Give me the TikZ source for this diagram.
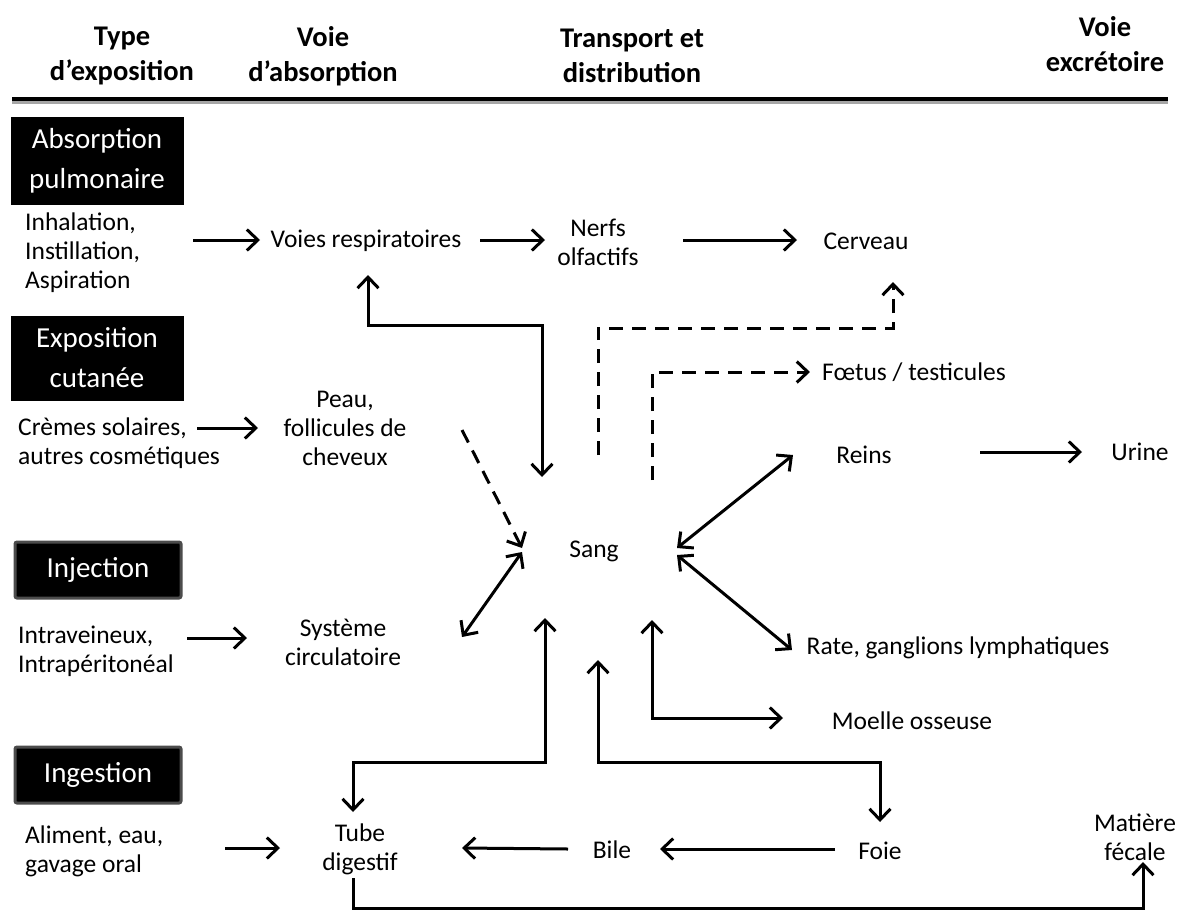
\documentclass[tikz,border=0pt]{standalone}
\usepackage{fontspec}
\setmainfont{Carlito}
\usetikzlibrary{arrows.meta,calc}
\begin{document}
\begin{tikzpicture}[x=1pt,y=-1pt,
 txt/.style={align=center,font=\fontsize{25.5}{29}\selectfont,inner sep=0pt},
 txtl/.style={align=left,font=\fontsize{25.5}{29}\selectfont,inner sep=0pt},
 hdr/.style={align=center,font=\fontsize{28.5}{35}\selectfont\bfseries,inner sep=0pt},
 blk/.style={fill=black,text=white,align=center,font=\fontsize{29}{40}\selectfont,minimum width=173pt,inner sep=0pt},
 blkf/.style={blk,draw=black!70,line width=3pt,rounded corners=2pt,minimum width=166pt,minimum height=56pt},
 tip/.tip={Straight Barb[length=11pt,width=21pt]},
 arr/.style={line width=3pt,-tip},
 darr/.style={line width=3pt,tip-tip},
 dsh/.style={arr,dash pattern=on 14pt off 9pt}
]
\useasboundingbox (0,0) rectangle (1177,910);

% headers
\node[hdr] (h1) at (122,56) {Type\\d’exposition};
\node[hdr] (h2) at (323,56) {Voie\\d’absorption};
\node[hdr] (h3) at (632,56) {Transport et\\distribution};
\node[hdr] (h4) at (1105,44) {Voie\\excrétoire};
\draw[line width=3pt,black!35] (12,102) -- (1168,102);
\draw[line width=4pt] (12,99) -- (1168,99);

% black boxes
\node[blk,minimum height=88pt] (b1) at (97,161) {Absorption\\pulmonaire};
\node[blk,minimum height=85pt] (b2) at (97,358) {Exposition\\cutanée};
\node[blkf] (b3) at (98,570) {Injection};
\node[blkf] (b4) at (98,775) {Ingestion};

% left texts
\node[txtl,anchor=west] (t1) at (25,253) {Inhalation,\\Instillation,\\Aspiration};
\node[txtl,anchor=west] (t2) at (18,443) {Crèmes solaires,\\autres cosmétiques};
\node[txtl,anchor=west] (t3) at (18,651) {Intraveineux,\\Intrapéritonéal};
\node[txtl,anchor=west] (t4) at (25,851) {Aliment, eau,\\gavage oral};

% column 2
\node[txt] (voies) at (366,241) {Voies respiratoires};
\node[txt] (peau) at (345,428) {Peau,\\follicules de\\cheveux};
\node[txt] (sys) at (343,642) {Système\\circulatoire};
\node[txt] (tube) at (360,849) {Tube\\digestif};

% column 3
\node[txt] (nerfs) at (598,242) {Nerfs\\olfactifs};
\node[txt] (sang) at (594,551) {Sang};
\node[txt] (bile) at (612,850) {Bile};

% right
\node[txt] (cerv) at (866,241) {Cerveau};
\node[txt] (foet) at (914,372) {Fœtus / testicules};
\node[txt] (reins) at (864,455) {Reins};
\node[txt] (urine) at (1140,452) {Urine};
\node[txt] (rate) at (958,648) {Rate, ganglions lymphatiques};
\node[txt] (moelle) at (912,721) {Moelle osseuse};
\node[txt] (foie) at (880,851) {Foie};
\node[txt] (mat) at (1135,837) {Matière\\fécale};

% straight arrows
\draw[arr] ($(t1.west)+(168,-13)$) -- ($(voies)+(-106,-1)$);
\draw[arr] ($(voies)+(114,-1)$) -- ($(nerfs)+(-53,-2)$);
\draw[arr] ($(nerfs)+(85,-2)$) -- ($(cerv)+(-69,-1)$);
\draw[arr] ($(t2.west)+(179,-15)$) -- ($(peau)+(-87,0)$);
\draw[arr] ($(t3.west)+(169,-13)$) -- ($(sys)+(-96,-4)$);
\draw[arr] ($(t4.west)+(200,-3)$) -- ($(tube)+(-80,-1)$);
\draw[arr] ($(reins)+(116,-3)$) -- ($(urine)+(-58,0)$);
\draw[arr] ($(foie)+(-45,-2)$) -- ($(bile)+(48,-1)$);
\draw[arr] ($(bile)+(-44,-1)$) -- ($(tube)+(102,-1)$);

% double arrows
\draw[darr] ($(voies)+(2,34)$) |- ($(sang)+(-52,-226)$) -- ($(sang)+(-52,-74)$);
\draw[darr] ($(sang)+(83,-3)$) -- ($(reins)+(-71,0)$);
\draw[darr] ($(sang)+(83,4)$) -- ($(rate)+(-166,2)$);
\draw[darr] ($(sang)+(-72,1)$) -- ($(sys)+(119,-5)$);
\draw[darr] ($(sang)+(-49,67)$) |- ($(tube)+(-7,-87)$) -- ($(tube)+(-7,-37)$);
\draw[darr] ($(sang)+(4,109)$) |- ($(foie)+(0,-89)$) -- ($(foie)+(0,-29)$);
\draw[darr] ($(sang)+(58,69)$) |- ($(moelle)+(-129,-3)$);

% dashed arrows
\draw[dsh] ($(sang)+(4,-96)$) |- ($(cerv)+(27,87)$) -- ($(cerv)+(27,41)$);
\draw[dsh] ($(sang)+(58,-71)$) |- ($(foet.west)+(-12,0)$);
\draw[dsh] ($(peau)+(117,2)$) -- ($(sang)+(-72,-3)$);

% excretion
\draw[arr] ($(tube)+(-7,29)$) |- ($(mat)+(8,71)$) -- ($(mat)+(8,25)$);
\end{tikzpicture}
\end{document}
